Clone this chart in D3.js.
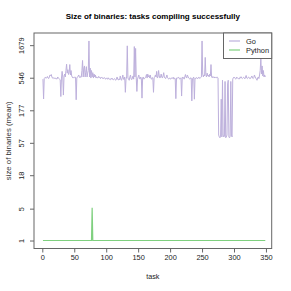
<!DOCTYPE html>
<meta charset="utf-8">
<style>
body { margin: 0; background: #fff; }
svg { font-family: "Liberation Sans", Arial, sans-serif; }
.axis text { font-size: 7.4px; fill: #222; }
.axis line { stroke: #666; }
.axis path { display: none; }
</style>
<svg width="291" height="291"></svg>
<script src="https://cdn.jsdelivr.net/npm/d3@7"></script>
<script>

// mean binary size per task (Go), one value per task
var goSize = [
  520, 262, 530, 545, 560, 535, 548, 570, 540, 530,
  560, 600, 585, 610, 560, 540, 530, 548, 535, 525,
  540, 530, 520, 560, 540, 530, 520, 510, 285, 540,
  680, 560, 300, 580, 620, 560, 700, 870, 640, 720,
  610, 650, 860, 600, 700, 580, 560, 540, 550, 560,
  545, 555, 255, 540, 560, 575, 600, 560, 545, 570,
  560, 700, 990, 560, 760, 820, 560, 660, 800, 560,
  640, 700, 1940, 560, 760, 540, 700, 560, 650, 540,
  620, 560, 600, 540, 560, 550, 540, 570, 550, 560,
  530, 545, 560, 540, 525, 535, 550, 530, 520, 540,
  530, 520, 545, 525, 515, 530, 510, 520, 540, 520,
  505, 515, 530, 510, 500, 520, 560, 515, 505, 525,
  510, 580, 520, 500, 540, 600, 520, 510, 560, 330,
  520, 560, 1640, 540, 520, 500, 560, 600, 520, 510,
  540, 580, 520, 1600, 560, 1500, 540, 340, 520, 560,
  600, 540, 520, 560, 530, 270, 540, 560, 520, 530,
  545, 560, 610, 540, 620, 560, 590, 540, 600, 530,
  520, 550, 540, 330, 545, 560, 600, 560, 680, 540,
  560, 700, 580, 540, 560, 620, 560, 540, 580, 650,
  560, 540, 530, 560, 600, 545, 530, 520, 540, 530,
  520, 545, 530, 540, 555, 520, 540, 530, 265, 540,
  530, 545, 560, 540, 520, 530, 545, 290, 540, 560,
  540, 520, 560, 610, 560, 540, 600, 570, 540, 530,
  520, 545, 540, 245, 530, 540, 560, 260, 540, 530,
  550, 540, 525, 545, 560, 535, 540, 550, 560, 1940,
  620, 560, 600, 580, 1100, 600, 560, 640, 580, 600,
  560, 620, 580, 860, 560, 545, 570, 555, 540, 560,
  550, 560, 545, 555, 540, 75, 70, 68, 72, 260,
  70, 500, 75, 70, 72, 480, 68, 70, 75, 440,
  500, 70, 68, 72, 480, 75, 70, 520, 545, 560,
  540, 530, 520, 560, 545, 535, 530, 520, 550, 540,
  565, 540, 530, 545, 555, 540, 525, 560, 590, 540,
  530, 550, 560, 540, 525, 535, 560, 580, 540, 530,
  550, 600, 560, 540, 520, 500, 540, 560, 530, 600,
  700, 1050, 620, 820, 580, 700, 560, 600, 560
];

// mean binary size per task (Python)
var pySize = [
  1,1,1,1,1,1,1,1,1,1,1,1,1,1,1,1,1,1,1,1,1,1,1,1,1,
  1,1,1,1,1,1,1,1,1,1,1,1,1,1,1,1,1,1,1,1,1,1,1,1,1,
  1,1,1,1,1,1,1,1,1,1,1,1,1,1,1,1,1,1,1,1,1,1,1,1,1,
  1,1,5.2,1,1,1,1,1,1,1,1,1,1,1,1,1,1,1,1,1,1,1,1,1,1,
  1,1,1,1,1,1,1,1,1,1,1,1,1,1,1,1,1,1,1,1,1,1,1,1,1,
  1,1,1,1,1,1,1,1,1,1,1,1,1,1,1,1,1,1,1,1,1,1,1,1,1,
  1,1,1,1,1,1,1,1,1,1,1,1,1,1,1,1,1,1,1,1,1,1,1,1,1,
  1,1,1,1,1,1,1,1,1,1,1,1,1,1,1,1,1,1,1,1,1,1,1,1,1,
  1,1,1,1,1,1,1,1,1,1,1,1,1,1,1,1,1,1,1,1,1,1,1,1,1,
  1,1,1,1,1,1,1,1,1,1,1,1,1,1,1,1,1,1,1,1,1,1,1,1,1,
  1,1,1,1,1,1,1,1,1,1,1,1,1,1,1,1,1,1,1,1,1,1,1,1,1,
  1,1,1,1,1,1,1,1,1,1,1,1,1,1,1,1,1,1,1,1,1,1,1,1,1,
  1,1,1,1,1,1,1,1,1,1,1,1,1,1,1,1,1,1,1,1,1,1,1,1,1,
  1,1,1,1,1,1,1,1,1,1,1,1,1,1,1,1,1,1,1,1,1,1,1,1
];

var seriesNames = ["Go", "Python"];
var seriesColors = ["#bdb0dc", "#7fd07f"];
var xTicks = [0, 50, 100, 150, 200, 250, 300, 350];
var yTicks = [1, 5, 18, 57, 177, 546, 1679];

var svg = d3.select("svg");
var box = {left: 34, right: 271.7, top: 33, bottom: 248.5};

var x = d3.scaleLinear()
    .domain([-13, 359])
    .range([box.left, box.right]);

// y is log(1 + size), padded 4% like R
var all = goSize.concat(pySize);
var lo = Math.log1p(d3.min(all)), hi = Math.log1p(d3.max(all));
var pad = (hi - lo) * 0.04;
var y = d3.scaleSymlog().constant(1)
    .domain([Math.expm1(lo - pad), Math.expm1(hi + pad)])
    .range([box.bottom, box.top]);

var line = d3.line()
    .x(function(d, i) { return x(i + 1); })
    .y(function(d) { return y(d); });

[goSize, pySize].forEach(function(s, k) {
  svg.append("path")
      .datum(s)
      .attr("fill", "none")
      .attr("stroke", seriesColors[k])
      .attr("stroke-width", k == 1 ? 1.2 : 1)
      .attr("d", line);
});

svg.append("rect")
    .attr("x", box.left).attr("y", box.top)
    .attr("width", box.right - box.left)
    .attr("height", box.bottom - box.top)
    .attr("fill", "none").attr("stroke", "#666");

svg.append("g")
    .attr("class", "axis")
    .attr("transform", "translate(0," + box.bottom + ")")
    .call(d3.axisBottom(x).tickValues(xTicks).tickSize(4).tickPadding(2.5));

var yAxis = svg.append("g")
    .attr("class", "axis")
    .attr("transform", "translate(" + box.left + ",0)")
    .call(d3.axisLeft(y).tickValues(yTicks).tickSize(4).tickFormat(d3.format("d")));

yAxis.selectAll(".tick text")
    .attr("transform", "rotate(-90)")
    .attr("x", 0).attr("y", -10).attr("dy", 0)
    .attr("text-anchor", "middle");

svg.append("text")
    .attr("x", (box.left + box.right) / 2).attr("y", 19)
    .attr("text-anchor", "middle")
    .style("font-size", "8px").style("font-weight", "bold")
    .text("Size of binaries: tasks compiling successfully");

svg.append("text")
    .attr("x", (box.left + box.right) / 2).attr("y", 279)
    .attr("text-anchor", "middle")
    .style("font-size", "7.2px").style("fill", "#222")
    .text("task");

svg.append("text")
    .attr("transform", "translate(10.5," + (box.top + box.bottom) / 2 + ") rotate(-90)")
    .attr("text-anchor", "middle")
    .style("font-size", "7.8px").style("fill", "#333")
    .text("size of binaries (mean)");

// legend
var legend = svg.append("g");
legend.append("rect")
    .attr("x", 223.5).attr("y", box.top)
    .attr("width", box.right - 223.5).attr("height", 25.5)
    .attr("fill", "#fff").attr("stroke", "#666");

seriesNames.forEach(function(name, k) {
  var ly = 41 + k * 9;
  legend.append("line")
      .attr("x1", 229).attr("x2", 240)
      .attr("y1", ly).attr("y2", ly)
      .attr("stroke", seriesColors[k]).attr("stroke-width", 1.2);
  legend.append("text")
      .attr("x", 246).attr("y", ly + 2.5)
      .style("font-size", "7.4px").style("fill", "#222")
      .text(name);
});

</script>
